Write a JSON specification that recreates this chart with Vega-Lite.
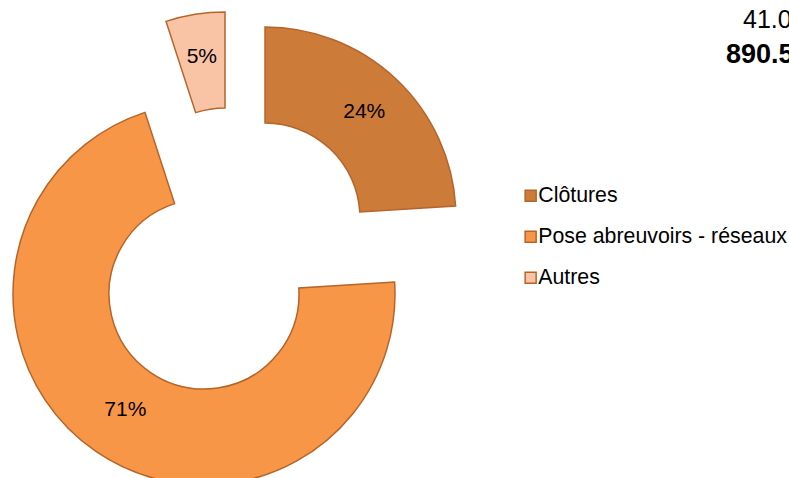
{
  "$schema": "https://vega.github.io/schema/vega-lite/v6.json",
  "width": 789,
  "height": 478,
  "padding": 0,
  "autosize": {"type": "none"},
  "background": "white",
  "config": {"view": {"stroke": null}, "font": "Liberation Sans"},
  "data": {"values": [
    {"categorie": "Clôtures", "part": 0.24, "ordre": 1},
    {"categorie": "Pose abreuvoirs - réseaux", "part": 0.71, "ordre": 2},
    {"categorie": "Autres", "part": 0.05, "ordre": 3}
  ]},
  "encoding": {
    "theta": {"field": "part", "type": "quantitative", "stack": true},
    "order": {"field": "ordre", "type": "quantitative", "sort": "ascending"}
  },
  "layer": [
    {
      "mark": {"type": "arc", "x": 265, "y": 218, "outerRadius": 191, "innerRadius": 95, "stroke": "#B5652A", "strokeWidth": 1.5},
      "encoding": {
        "color": {
          "field": "categorie", "type": "nominal",
          "scale": {"domain": ["Clôtures", "Pose abreuvoirs - réseaux", "Autres"], "range": ["#CC7B39", "#F79646", "#F9C3A6"]},
          "legend": {
            "orient": "none", "legendX": 520, "legendY": 185, "title": null,
            "symbolType": "square", "symbolSize": 121, "symbolStrokeColor": "#B5652A", "symbolStrokeWidth": 1.5,
            "labelFont": "Liberation Sans", "labelFontSize": 21.3, "labelColor": "#000000", "labelOffset": -3,
            "rowPadding": 19, "labelLimit": 400
          }
        },
        "opacity": {"condition": {"test": "datum.categorie === 'Clôtures'", "value": 1}, "value": 0}
      }
    },
    {
      "mark": {"type": "arc", "x": 204, "y": 294, "outerRadius": 191, "innerRadius": 95, "stroke": "#B5652A", "strokeWidth": 1.5},
      "encoding": {
        "color": {"field": "categorie", "type": "nominal"},
        "opacity": {"condition": {"test": "datum.categorie === 'Pose abreuvoirs - réseaux'", "value": 1}, "value": 0}
      }
    },
    {
      "mark": {"type": "arc", "x": 225, "y": 203, "outerRadius": 191, "innerRadius": 95, "stroke": "#B5652A", "strokeWidth": 1.5},
      "encoding": {
        "color": {"field": "categorie", "type": "nominal"},
        "opacity": {"condition": {"test": "datum.categorie === 'Autres'", "value": 1}, "value": 0}
      }
    },
    {
      "mark": {"type": "text", "x": 265, "y": 218, "radius": 145, "fontSize": 21, "font": "Liberation Sans", "color": "#000000"},
      "encoding": {
        "detail": {"field": "categorie", "type": "nominal"},
        "text": {"field": "part", "type": "quantitative", "format": ".0%"},
        "opacity": {"condition": {"test": "datum.categorie === 'Clôtures'", "value": 1}, "value": 0}
      }
    },
    {
      "mark": {"type": "text", "x": 204, "y": 294, "radius": 140, "fontSize": 21, "font": "Liberation Sans", "color": "#000000"},
      "encoding": {
        "detail": {"field": "categorie", "type": "nominal"},
        "text": {"field": "part", "type": "quantitative", "format": ".0%"},
        "opacity": {"condition": {"test": "datum.categorie === 'Pose abreuvoirs - réseaux'", "value": 1}, "value": 0}
      }
    },
    {
      "mark": {"type": "text", "x": 225, "y": 203, "radius": 148, "fontSize": 21, "font": "Liberation Sans", "color": "#000000"},
      "encoding": {
        "detail": {"field": "categorie", "type": "nominal"},
        "text": {"field": "part", "type": "quantitative", "format": ".0%"},
        "opacity": {"condition": {"test": "datum.categorie === 'Autres'", "value": 1}, "value": 0}
      }
    },
    {
      "data": {"values": [{"texte": "41.0"}]},
      "mark": {"type": "text", "x": 743, "y": 28, "align": "left", "baseline": "alphabetic", "fontSize": 25, "font": "Liberation Sans", "color": "#000000"},
      "encoding": {"text": {"field": "texte", "type": "nominal"}, "theta": null, "order": null}
    },
    {
      "data": {"values": [{"texte": "890.5"}]},
      "mark": {"type": "text", "x": 726, "y": 63, "align": "left", "baseline": "alphabetic", "fontSize": 27, "fontWeight": "bold", "font": "Liberation Sans", "color": "#000000"},
      "encoding": {"text": {"field": "texte", "type": "nominal"}, "theta": null, "order": null}
    }
  ]
}
